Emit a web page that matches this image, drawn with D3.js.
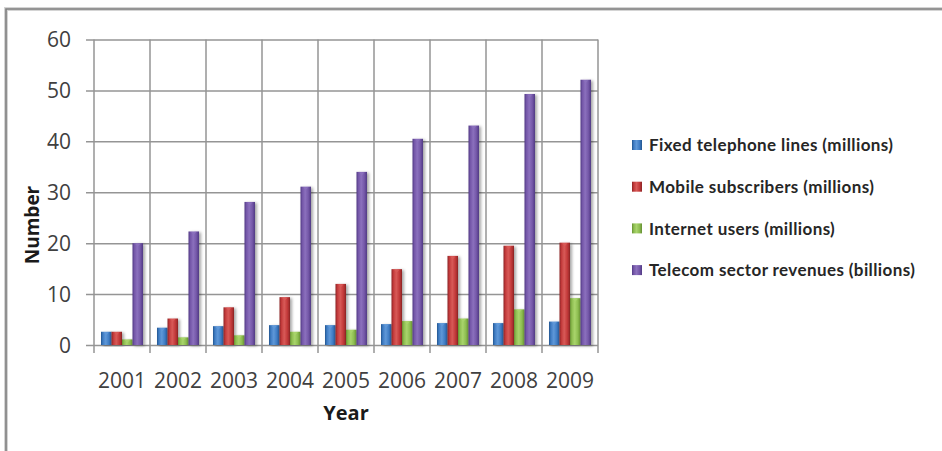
<!DOCTYPE html>
<html>
<head>
<meta charset="utf-8">
<script src="https://cdn.jsdelivr.net/npm/d3@7"></script>
<style>
  html, body { margin: 0; padding: 0; background: #fff; }
  svg { display: block; }
</style>
</head>
<body>
<svg id="chart" width="942" height="451"></svg>
<script>
// Telecom indicators by year
const years = ["2001", "2002", "2003", "2004", "2005", "2006", "2007", "2008", "2009"];
const seriesNames = [
  "Fixed telephone lines (millions)",
  "Mobile subscribers (millions)",
  "Internet users (millions)",
  "Telecom sector revenues (billions)"
];
const fixedLines = [2.6, 3.4, 3.7, 3.9, 3.9, 4.1, 4.3, 4.3, 4.6];
const mobileSubs = [2.6, 5.2, 7.4, 9.4, 12.0, 14.9, 17.5, 19.5, 20.1];
const internetUsers = [1.1, 1.5, 1.9, 2.6, 3.0, 4.7, 5.2, 7.0, 9.2];
const revenues = [20.0, 22.3, 28.1, 31.1, 34.0, 40.5, 43.1, 49.3, 52.1];
const yTicks = [0, 10, 20, 30, 40, 50, 60];

const seriesValues = [fixedLines, mobileSubs, internetUsers, revenues];
const palette = [
  { base: "#3f7cc4", light: "#5f98d8", dark: "#22558f" },
  { base: "#c23a3a", light: "#d85a58", dark: "#8c2324" },
  { base: "#8dbd50", light: "#a9d46c", dark: "#658f33" },
  { base: "#7457a8", light: "#8b70bd", dark: "#513a84" }
];

const svg = d3.select("#chart");
const W = 942, H = 451;
const plot = { left: 94, right: 598, top: 39.5, bottom: 345 };

svg.append("rect").attr("width", W).attr("height", H).attr("fill", "#fff");

// outer chart frame (top and left edges)
svg.append("path")
  .attr("d", `M6,${H} V9 H${W}`)
  .attr("fill", "none").attr("stroke", "#d4d4d4").attr("stroke-width", 4);
svg.append("path")
  .attr("d", `M6,${H} V9 H${W}`)
  .attr("fill", "none").attr("stroke", "#7f7f7f").attr("stroke-width", 1.6);

const defs = svg.append("defs");
palette.forEach((c, i) => {
  const g = defs.append("linearGradient").attr("id", "bar" + i)
    .attr("x1", "0").attr("x2", "1").attr("y1", "0").attr("y2", "0");
  g.append("stop").attr("offset", "0%").attr("stop-color", c.dark);
  g.append("stop").attr("offset", "18%").attr("stop-color", c.base);
  g.append("stop").attr("offset", "45%").attr("stop-color", c.light);
  g.append("stop").attr("offset", "75%").attr("stop-color", c.base);
  g.append("stop").attr("offset", "100%").attr("stop-color", c.dark);
});
const sh = defs.append("filter").attr("id", "shadow")
  .attr("x", "-50%").attr("y", "-10%").attr("width", "200%").attr("height", "120%");
sh.append("feDropShadow").attr("dx", 2).attr("dy", 1)
  .attr("stdDeviation", 1.4).attr("flood-color", "#000").attr("flood-opacity", 0.35);

const x = d3.scaleBand().domain(years).range([plot.left, plot.right]).paddingInner(0).paddingOuter(0);
const xs = d3.scaleBand().domain(d3.range(seriesValues.length))
  .range([0, x.bandwidth()]).paddingInner(0).paddingOuter(0.667);
const y = d3.scaleLinear().domain([0, 60]).range([plot.bottom, plot.top]);

const gridColor = "#959595";

// horizontal gridlines with left tick marks
const yAxis = d3.axisLeft(y).tickValues(yTicks).tickSize(-(plot.right - plot.left)).tickPadding(16).tickFormat(d3.format("d"));
const gy = svg.append("g").attr("transform", `translate(${plot.left},0)`).call(yAxis);
gy.select(".domain").remove();
gy.selectAll(".tick line").attr("stroke", gridColor).attr("stroke-width", 1.5).attr("x1", -8);
gy.selectAll(".tick text")
  .attr("fill", "#404040").style("font-family", "'Open Sans', sans-serif").style("font-size", "21px")
  .attr("x", -23).attr("dy", "0.35em");

// vertical category dividers extending below the axis
const bounds = years.map(d => x(d)).concat([plot.right]);
svg.append("g").selectAll("line").data(bounds).join("line")
  .attr("x1", d => d).attr("x2", d => d)
  .attr("y1", plot.top).attr("y2", plot.bottom + 8)
  .attr("stroke", gridColor).attr("stroke-width", 1.5);

// category labels
const xAxis = d3.axisBottom(x).tickSize(0).tickPadding(28);
const gx = svg.append("g").attr("transform", `translate(0,${plot.bottom})`).call(xAxis);
gx.select(".domain").remove();
gx.selectAll(".tick text")
  .attr("fill", "#404040").style("font-family", "'Open Sans', sans-serif").style("font-size", "21px");

// bars
const groups = svg.append("g").selectAll("g").data(years).join("g")
  .attr("transform", d => `translate(${x(d)},0)`);
groups.each(function(yr, yi) {
  const g = d3.select(this);
  seriesValues.forEach((vals, si) => {
    const v = vals[yi];
    const bx = xs(si), bw = xs.bandwidth();
    g.append("rect")
      .attr("x", bx).attr("y", y(v))
      .attr("width", bw).attr("height", y(0) - y(v))
      .attr("fill", `url(#bar${si})`)
      .attr("filter", "url(#shadow)");
    // light cap at the top of each bar
    g.append("path")
      .attr("d", `M${bx + bw * 0.25},${y(v) + 0.5} L${bx + bw * 0.75},${y(v) + 0.5} L${bx + bw * 0.5},${y(v) + 3.5} Z`)
      .attr("fill", palette[si].light).attr("opacity", 0.9);
  });
});

// axis titles
svg.append("text")
  .attr("x", (plot.left + plot.right) / 2).attr("y", 420)
  .attr("text-anchor", "middle")
  .attr("fill", "#1a1a1a")
  .style("font-family", "'Open Sans', sans-serif").style("font-weight", "bold").style("font-size", "20px")
  .text("Year");
svg.append("text")
  .attr("transform", "translate(39,225) rotate(-90)")
  .attr("text-anchor", "middle")
  .attr("fill", "#1a1a1a")
  .style("font-family", "'Open Sans', sans-serif").style("font-weight", "bold").style("font-size", "19px")
  .text("Number");

// legend
const legend = svg.append("g").selectAll("g").data(seriesNames).join("g")
  .attr("transform", (d, i) => `translate(632,${145 + i * 41.7})`);
legend.append("rect")
  .attr("x", 0).attr("y", -5).attr("width", 10).attr("height", 10)
  .attr("fill", (d, i) => `url(#bar${i})`);
legend.append("text")
  .attr("x", 17).attr("dy", "0.36em")
  .attr("fill", "#262626")
  .style("font-family", "Lato, sans-serif").style("font-weight", "bold").style("font-size", "17px")
  .style("letter-spacing", "0.4px")
  .text(d => d);
</script>
</body>
</html>
